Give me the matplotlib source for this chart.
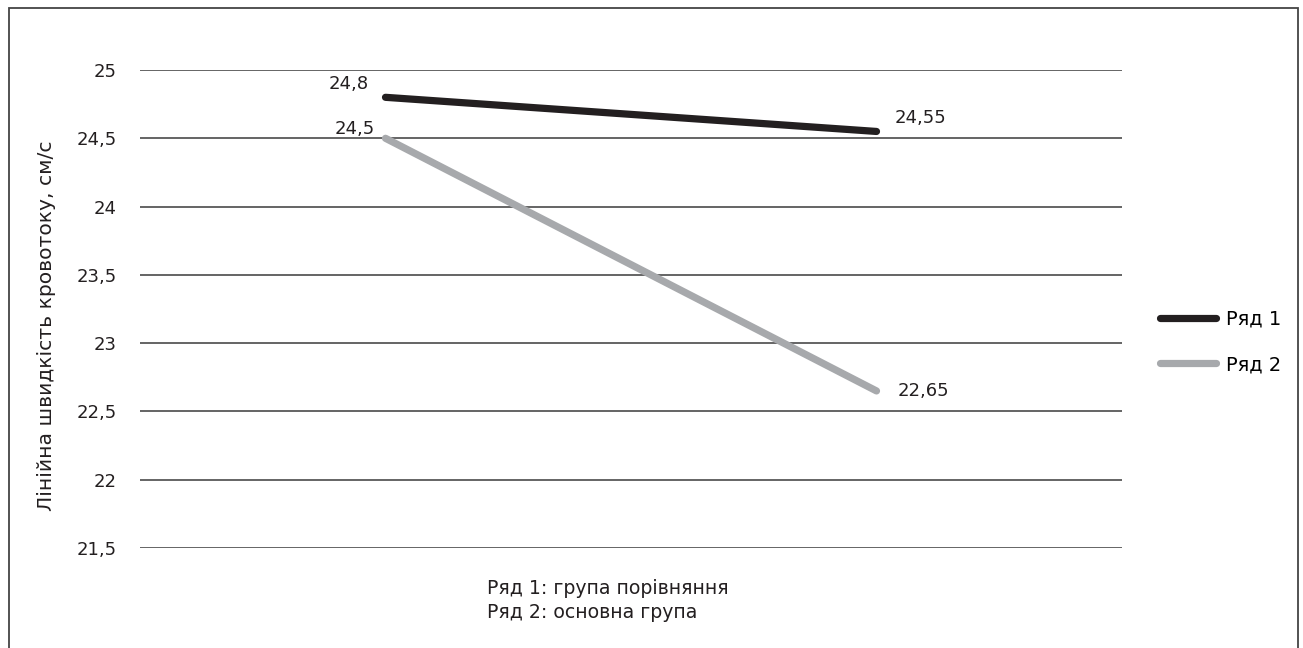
import matplotlib
matplotlib.use("Agg")
import matplotlib.pyplot as plt
from matplotlib.patches import Rectangle

# Data
groups = [0, 1]
series_names = ["Ряд 1", "Ряд 2"]
row1 = [24.8, 24.55]
row2 = [24.5, 22.65]
row1_labels = ["24,8", "24,55"]
row2_labels = ["24,5", "22,65"]
y_ticks = [21.5, 22, 22.5, 23, 23.5, 24, 24.5, 25]
y_tick_labels = ["21,5", "22", "22,5", "23", "23,5", "24", "24,5", "25"]
y_title = "Лінійна швидкість кровотоку, см/с"
footnote = ["Ряд 1: група порівняння", "Ряд 2: основна група"]

plt.rcParams["font.family"] = ["DejaVu Sans"]
text_color = "#231f20"

W, H, DPI = 1303, 648, 100
fig = plt.figure(figsize=(W / DPI, H / DPI), dpi=DPI)

# outer frame (open at the bottom edge of the image)
fig.patches.append(Rectangle((9 / W, -0.05), (1298 - 9) / W, 1.05 - 8 / H,
                             transform=fig.transFigure, fill=False,
                             edgecolor="#444444", linewidth=1.3))

ax = fig.add_axes([140 / W, 1 - 548 / H, (1122 - 140) / W, (548 - 70) / H])
ax.set_ylim(21.5, 25)
ax.set_xlim(-0.5, 1.5)
ax.set_yticks(y_ticks)
ax.set_yticklabels(y_tick_labels, fontsize=13, color=text_color)
ax.set_xticks([])
ax.tick_params(axis="y", length=0, pad=16.5)
for s in ax.spines.values():
    s.set_visible(False)
ax.grid(axis="y", color="#3a3a3a", linewidth=1.1)
ax.set_axisbelow(True)

c1, c2 = "#231f20", "#a7a9ac"
l1, = ax.plot(groups, row1, color=c1, linewidth=5.2, solid_capstyle="round", label=series_names[0])
l2, = ax.plot(groups, row2, color=c2, linewidth=5.2, solid_capstyle="round", label=series_names[1])

fs = 13
ax.annotate(row1_labels[0], (groups[0], row1[0]), xytext=(-12, 9.5), textcoords="offset points",
            ha="right", va="center", fontsize=fs, color=text_color)
ax.annotate(row2_labels[0], (groups[0], row2[0]), xytext=(-8, 7), textcoords="offset points",
            ha="right", va="center", fontsize=fs, color=text_color)
ax.annotate(row1_labels[1], (groups[1], row1[1]), xytext=(13, 9.8), textcoords="offset points",
            ha="left", va="center", fontsize=fs, color=text_color)
ax.annotate(row2_labels[1], (groups[1], row2[1]), xytext=(15, 0), textcoords="offset points",
            ha="left", va="center", fontsize=fs, color=text_color)

ax.set_ylabel(y_title, fontsize=14.6, color=text_color)
ax.yaxis.set_label_coords(-84 / 982, 1 - (326 - 70) / 478)

fig.legend(handles=[l1, l2], loc="center left", bbox_to_anchor=(1160 / W, 1 - 342 / H),
           frameon=False, fontsize=14, handlelength=2.9, handletextpad=0.5,
           labelspacing=1.35, borderaxespad=0, borderpad=0)

fig.text(487 / W, 1 - 588 / H, footnote[0], ha="left", va="center", fontsize=13.6, color=text_color)
fig.text(487 / W, 1 - 613 / H, footnote[1], ha="left", va="center", fontsize=13.6, color=text_color)

fig.savefig("out.png", dpi=DPI)
